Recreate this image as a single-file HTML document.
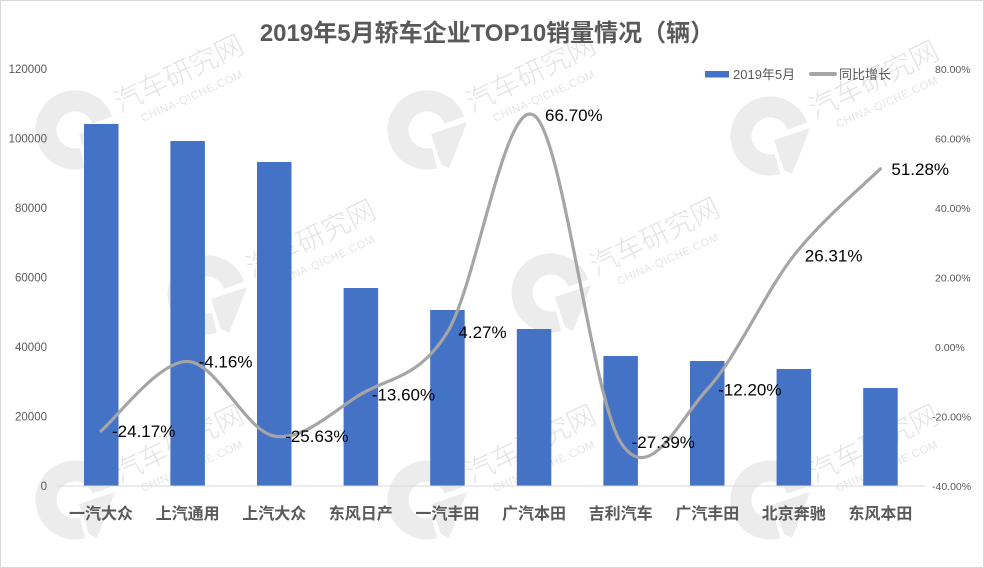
<!DOCTYPE html>
<html>
<head>
<meta charset="utf-8">
<style>
html,body{margin:0;padding:0;background:#fff;}
svg{display:block;}
text{font-family:"Liberation Sans","Noto Sans CJK SC",sans-serif;}
</style>
</head>
<body>
<svg width="984" height="568" viewBox="0 0 984 568" xmlns="http://www.w3.org/2000/svg">
<defs>
<g id="wm">
  <path d="M 27.3 -9.9 A 29 29 0 1 0 7.5 28" fill="none" stroke="#ececec" stroke-width="21"/>
  <polygon points="4,4 40,-8 34,8 22,38 14,34" fill="#ececec"/>
  <text x="45" y="-17" transform="rotate(-26 45 -17)" font-family="'Noto Sans CJK SC',sans-serif" font-size="28" fill="#e4e4e4" font-weight="300">汽车研究网</text>
  <text x="68" y="-8" transform="rotate(-24 68 -8)" font-size="11" fill="#e4e4e4" letter-spacing="0.6">CHINA-QICHE.COM</text>
</g>
</defs>
<rect x="0.5" y="0.5" width="983" height="567" fill="#fff" stroke="#d9d9d9" stroke-width="1"/>

<!-- watermarks -->
<use href="#wm" transform="translate(75,130)"/>
<use href="#wm" transform="translate(427,130)"/>
<use href="#wm" transform="translate(770,136)"/>
<use href="#wm" transform="translate(207,295)"/>
<use href="#wm" transform="translate(551,293)"/>
<use href="#wm" transform="translate(75,500)"/>
<use href="#wm" transform="translate(427,500)"/>
<use href="#wm" transform="translate(770,500)"/>

<!-- title -->
<text x="487" y="41" text-anchor="middle" font-size="24" font-weight="bold" fill="#595959">2019年5月轿车企业TOP10销量情况（辆）</text>

<!-- legend -->
<rect x="705" y="71" width="24" height="6.5" fill="#4472c4"/>
<text x="733" y="79" font-size="13" fill="#595959">2019年5月</text>
<line x1="811" y1="74" x2="835" y2="74" stroke="#a5a5a5" stroke-width="4" stroke-linecap="round"/>
<text x="839" y="79" font-size="13" fill="#595959">同比增长</text>

<!-- left axis labels -->
<g font-size="11.5" fill="#595959" text-anchor="end">
  <text x="47" y="73">120000</text>
  <text x="47" y="142.5">100000</text>
  <text x="47" y="212">80000</text>
  <text x="47" y="281.5">60000</text>
  <text x="47" y="351">40000</text>
  <text x="47" y="420.5">20000</text>
  <text x="47" y="490">0</text>
</g>

<!-- right axis labels -->
<g font-size="10.5" fill="#595959">
  <text x="935" y="73">80.00%</text>
  <text x="935" y="142.5">60.00%</text>
  <text x="935" y="212">40.00%</text>
  <text x="935" y="281.5">20.00%</text>
  <text x="935" y="351">0.00%</text>
  <text x="932" y="420.5">-20.00%</text>
  <text x="932" y="490">-40.00%</text>
</g>

<!-- bars -->
<g fill="#4472c4">
  <rect x="84" y="124" width="34.5" height="362"/>
  <rect x="170.4" y="141" width="34.5" height="345"/>
  <rect x="257" y="162" width="34.5" height="324"/>
  <rect x="343.6" y="288" width="34.5" height="198"/>
  <rect x="430.2" y="310" width="34.5" height="176"/>
  <rect x="516.8" y="329" width="34.5" height="157"/>
  <rect x="603.4" y="356" width="34.5" height="130"/>
  <rect x="690" y="361" width="34.5" height="125"/>
  <rect x="776.6" y="369" width="34.5" height="117"/>
  <rect x="863.2" y="388" width="34.5" height="98"/>
</g>

<!-- axis line -->
<line x1="57" y1="486" x2="925" y2="486" stroke="#d9d9d9" stroke-width="1"/>

<!-- line series -->
<path d="M101,430.99 C115.43,419.40 158.73,360.62 187.6,361.46
 C216.47,362.31 245.33,430.59 274.2,436.06
 C303.07,441.53 331.93,411.58 360.8,394.26
 C389.67,376.94 418.53,378.67 447.4,332.16
 C476.27,285.65 505.13,96.88 534,115.22
 C562.87,133.56 591.73,396.48 620.6,442.18
 C649.47,487.88 678.33,420.50 707.2,389.40
 C736.07,358.30 764.93,292.34 793.8,255.57
 C822.67,218.80 865.97,183.26 880.4,168.80"
 fill="none" stroke="#a5a5a5" stroke-width="3.2" stroke-linecap="round" stroke-linejoin="round"/>

<!-- data labels -->
<g font-size="17" fill="#000">
  <text x="112" y="437">-24.17%</text>
  <text x="198.6" y="367.5">-4.16%</text>
  <text x="285.2" y="442">-25.63%</text>
  <text x="371.8" y="400.3">-13.60%</text>
  <text x="458.4" y="338.2">4.27%</text>
  <text x="545" y="121.2">66.70%</text>
  <text x="631.6" y="448.2">-27.39%</text>
  <text x="718.2" y="395.4">-12.20%</text>
  <text x="804.8" y="261.6">26.31%</text>
  <text x="891.4" y="174.8">51.28%</text>
</g>

<!-- category labels -->
<g font-size="16" font-weight="bold" fill="#595959" text-anchor="middle">
  <text x="101" y="519">一汽大众</text>
  <text x="187.6" y="519">上汽通用</text>
  <text x="274.2" y="519">上汽大众</text>
  <text x="360.8" y="519">东风日产</text>
  <text x="447.4" y="519">一汽丰田</text>
  <text x="534" y="519">广汽本田</text>
  <text x="620.6" y="519">吉利汽车</text>
  <text x="707.2" y="519">广汽丰田</text>
  <text x="793.8" y="519">北京奔驰</text>
  <text x="880.4" y="519">东风本田</text>
</g>
</svg>
</body>
</html>
